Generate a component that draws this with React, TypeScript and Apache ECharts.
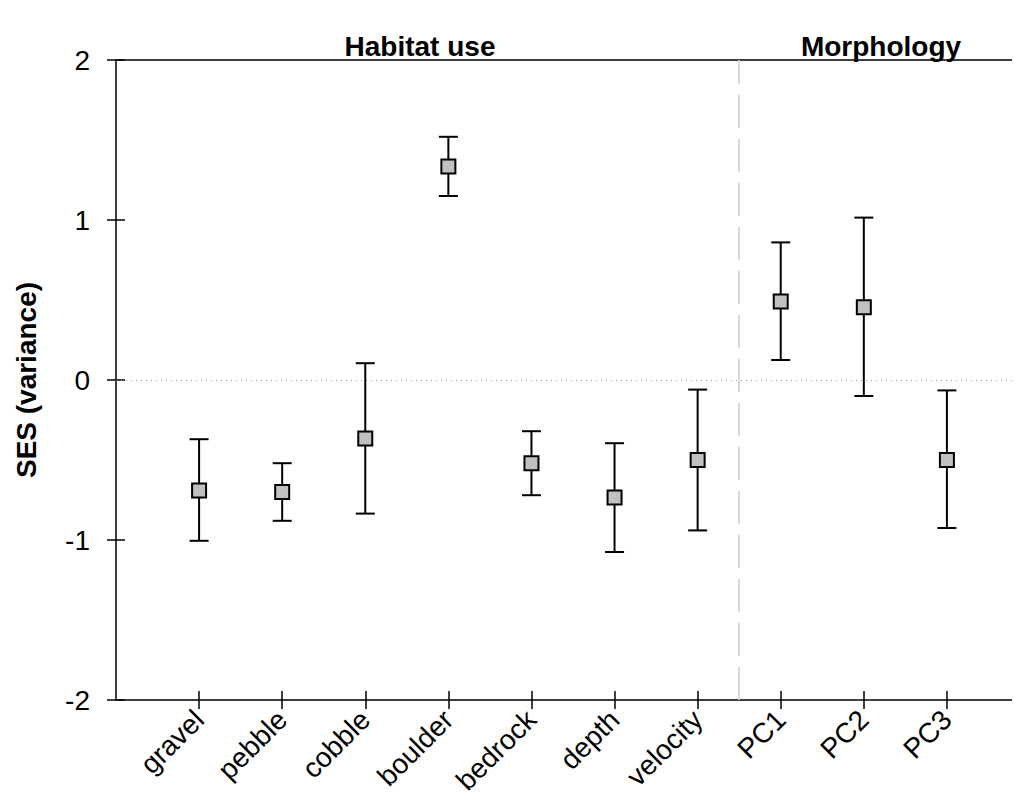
import React, { useEffect, useRef } from 'react';
import * as echarts from 'echarts';

const categories = ['gravel', 'pebble', 'cobble', 'boulder', 'bedrock', 'depth', 'velocity', 'PC1', 'PC2', 'PC3'];
const means = [-0.69, -0.70, -0.365, 1.335, -0.52, -0.735, -0.50, 0.49, 0.455, -0.50];
const upper = [-0.37, -0.52, 0.105, 1.52, -0.32, -0.395, -0.06, 0.86, 1.015, -0.065];
const lower = [-1.005, -0.88, -0.835, 1.15, -0.72, -1.075, -0.94, 0.125, -0.10, -0.925];
const yTicks = [-2, -1, 0, 1, 2];
const sectionTitles = ['Habitat use', 'Morphology'];
const sectionDivider = 7.5;

const FONT = "'Liberation Sans', Arial, Helvetica, sans-serif";

export default function App() {
  const ref = useRef<HTMLDivElement>(null);
  useEffect(() => {
    if (!ref.current) return;
    const chart = echarts.init(ref.current, null, { renderer: 'svg' });
    const positions = categories.map((_, i) => i + 1);
    const barData = categories.map((_, i) => [i + 1, lower[i], upper[i]]);
    const pointData = categories.map((_, i) => [i + 1, means[i]]);
    const option: any = {
      animation: false,
      backgroundColor: '#fff',
      textStyle: { fontFamily: FONT },
      grid: {
        left: 108,
        right: -10,
        top: 52,
        bottom: 112,
        outerBoundsMode: 'none',
        containLabel: false,
        show: true,
        borderColor: '#000',
        borderWidth: 1.5,
        backgroundColor: 'transparent',
      },
      graphic: [
        {
          type: 'text',
          x: 412,
          y: 24,
          style: {
            text: sectionTitles[0],
            font: `bold 28px ${FONT}`,
            fill: '#000',
            textAlign: 'center',
            textVerticalAlign: 'alphabetic',
          },
        },
        {
          type: 'text',
          x: 873,
          y: 24,
          style: {
            text: sectionTitles[1],
            font: `bold 28px ${FONT}`,
            fill: '#000',
            textAlign: 'center',
            textVerticalAlign: 'alphabetic',
          },
        },
      ],
      xAxis: {
        type: 'value',
        min: 0,
        max: 11,
        offset: -9,
        axisLine: { show: false, onZero: false },
        splitLine: { show: false },
        axisTick: {
          show: true,
          length: 18,
          customValues: positions,
          lineStyle: { color: '#000', width: 1.5 },
        },
        axisLabel: {
          customValues: positions,
          formatter: (v: number) => categories[Math.round(v) - 1] ?? '',
          rotate: 45,
          fontSize: 28,
          color: '#000',
          fontFamily: FONT,
          margin: 24,
        },
      },
      yAxis: {
        type: 'value',
        min: yTicks[0],
        max: yTicks[yTicks.length - 1],
        interval: 1,
        offset: -9,
        axisLine: { show: false, onZero: false },
        splitLine: { show: false },
        axisTick: {
          show: true,
          length: 18,
          lineStyle: { color: '#000', width: 1.5 },
        },
        axisLabel: {
          fontSize: 28,
          color: '#000',
          fontFamily: FONT,
          margin: 35,
        },
        name: 'SES (variance)',
        nameLocation: 'middle',
        nameRotate: 90,
        nameGap: 85,
        nameTextStyle: { fontSize: 28, fontWeight: 'bold', color: '#000', fontFamily: FONT },
      },
      series: [
        {
          type: 'custom',
          data: barData,
          z: 3,
          renderItem: (params: any, api: any) => {
            const x = api.value(0);
            const lo = api.coord([x, api.value(1)]);
            const hi = api.coord([x, api.value(2)]);
            const hw = 9.5;
            const style = { stroke: '#000', lineWidth: 2 };
            return {
              type: 'group',
              children: [
                { type: 'line', shape: { x1: hi[0], y1: hi[1], x2: lo[0], y2: lo[1] }, style },
                { type: 'line', shape: { x1: hi[0] - hw, y1: hi[1], x2: hi[0] + hw, y2: hi[1] }, style },
                { type: 'line', shape: { x1: lo[0] - hw, y1: lo[1], x2: lo[0] + hw, y2: lo[1] }, style },
              ],
            };
          },
        },
        {
          type: 'scatter',
          data: pointData,
          z: 4,
          symbol: 'rect',
          symbolSize: 14,
          itemStyle: { color: '#c0c0c0', borderColor: '#000', borderWidth: 2, opacity: 1 },
          markLine: {
            silent: true,
            symbol: ['none', 'none'],
            label: { show: false },
            z: 1,
            data: [
              { xAxis: sectionDivider, lineStyle: { color: '#cccccc', width: 1.5, type: [33, 11] } },
              { yAxis: 0, lineStyle: { color: '#999999', width: 1, type: [1, 4] } },
            ],
          },
        },
      ],
    };
    chart.setOption(option);
    return () => chart.dispose();
  }, []);
  return <div ref={ref} style={{ width: 1012, height: 804 }} />;
}
